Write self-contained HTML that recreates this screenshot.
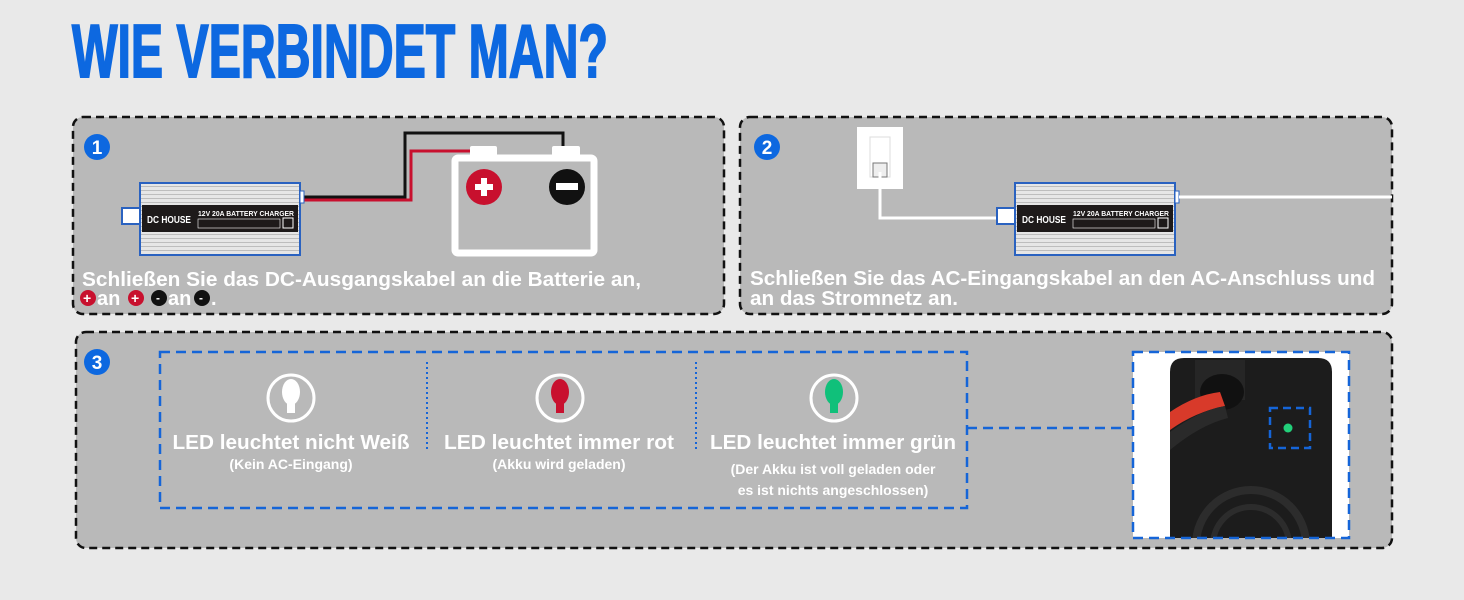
<!DOCTYPE html>
<html><head><meta charset="utf-8"><style>
html,body{margin:0;padding:0;background:#e9e9e9;}
svg{display:block;}
text{font-family:"Liberation Sans",sans-serif;font-weight:bold;}
</style></head><body>
<svg width="1464" height="600" viewBox="0 0 1464 600" xmlns="http://www.w3.org/2000/svg">
<defs>
<clipPath id="photo"><rect x="1133" y="352" width="216" height="186"/></clipPath>
<pattern id="ribs" width="4" height="4" patternUnits="userSpaceOnUse"><rect width="4" height="4" fill="#e6e6e6"/><rect y="3" width="4" height="1" fill="#bdbdbd"/></pattern>
<g id="charger">
<rect x="-18" y="25" width="20" height="16" fill="#fff" stroke="#2a62c0" stroke-width="2"/>
<rect x="0" y="0" width="160" height="72" fill="url(#ribs)" stroke="#2a62c0" stroke-width="2"/>
<rect x="160" y="8" width="4" height="12" fill="#fff" stroke="#2a62c0" stroke-width="1"/>
<rect x="2" y="22" width="156" height="27" fill="#1e1a1a"/>
<text x="7" y="40" font-size="10" fill="#fff" textLength="44" lengthAdjust="spacingAndGlyphs">DC HOUSE</text>
<text x="58" y="33" font-size="7" fill="#fff" textLength="96" lengthAdjust="spacingAndGlyphs">12V 20A BATTERY CHARGER</text>
<rect x="58" y="36" width="82" height="9" fill="none" stroke="#fff" stroke-width="0.6"/>
<rect x="143" y="35" width="10" height="10" fill="none" stroke="#fff" stroke-width="1"/>
</g>
</defs>

<text x="72" y="77" font-size="75" fill="#0d68e0" textLength="536" lengthAdjust="spacingAndGlyphs" stroke="#0d68e0" stroke-width="2">WIE VERBINDET MAN?</text>

<rect x="73" y="117" width="651" height="197" rx="10" fill="#b9b9b9" stroke="#111" stroke-width="2.5" stroke-dasharray="8,5"/>
<rect x="740" y="117" width="652" height="197" rx="10" fill="#b9b9b9" stroke="#111" stroke-width="2.5" stroke-dasharray="8,5"/>
<rect x="76" y="332" width="1316" height="216" rx="10" fill="#b9b9b9" stroke="#111" stroke-width="2.5" stroke-dasharray="8,5"/>

<circle cx="97" cy="147" r="13" fill="#0d68e0"/><text x="97" y="154" font-size="19" fill="#fff" text-anchor="middle">1</text>
<circle cx="767" cy="147" r="13" fill="#0d68e0"/><text x="767" y="154" font-size="19" fill="#fff" text-anchor="middle">2</text>
<circle cx="97" cy="362" r="13" fill="#0d68e0"/><text x="97" y="369" font-size="19" fill="#fff" text-anchor="middle">3</text>

<polyline points="302,197 405,197 405,133 563,133 563,148" fill="none" stroke="#111" stroke-width="3"/>
<polyline points="302,200 411,200 411,151 472,151" fill="none" stroke="#c8102e" stroke-width="3"/>
<use href="#charger" x="140" y="183"/>
<rect x="470" y="146" width="27" height="12" rx="2" fill="#fff"/>
<rect x="552" y="146" width="28" height="12" rx="2" fill="#fff"/>
<rect x="455" y="158" width="139" height="95" rx="3" fill="none" stroke="#fff" stroke-width="7"/>
<circle cx="484" cy="187" r="18" fill="#c8102e"/>
<rect x="475" y="184" width="18" height="6" fill="#fff"/><rect x="481" y="178" width="6" height="18" fill="#fff"/>
<circle cx="567" cy="187" r="18" fill="#111"/>
<rect x="556" y="183" width="22" height="7" fill="#fff"/>
<text x="82" y="286" font-size="20" fill="#fff" textLength="559" lengthAdjust="spacingAndGlyphs">Schließen Sie das DC-Ausgangskabel an die Batterie an,</text>
<g font-size="20" fill="#fff">
<circle cx="88" cy="298" r="8" fill="#c8102e"/><text x="83" y="303" font-size="14">+</text>
<text x="97" y="305">an</text>
<circle cx="136" cy="298" r="8" fill="#c8102e"/><text x="131" y="303" font-size="14">+</text>
<circle cx="159" cy="298" r="8" fill="#111"/><text x="156" y="302" font-size="12">-</text>
<text x="168" y="305">an</text>
<circle cx="202" cy="298" r="8" fill="#111"/><text x="199" y="302" font-size="12">-</text>
<text x="211" y="305">.</text>
</g>

<rect x="857" y="127" width="46" height="62" fill="#fff"/>
<rect x="870" y="137" width="20" height="40" fill="none" stroke="#ddd" stroke-width="1"/>
<rect x="873" y="163" width="14" height="14" fill="#eee" stroke="#777" stroke-width="1"/>
<polyline points="880,172 880,218 1000,218" fill="none" stroke="#fff" stroke-width="3"/>
<use href="#charger" x="1015" y="183"/>
<line x1="1179" y1="197" x2="1392" y2="197" stroke="#fff" stroke-width="3"/>
<text x="750" y="285" font-size="20" fill="#fff" textLength="625" lengthAdjust="spacingAndGlyphs">Schließen Sie das AC-Eingangskabel an den AC-Anschluss und</text>
<text x="750" y="305" font-size="20" fill="#fff" textLength="208" lengthAdjust="spacingAndGlyphs">an das Stromnetz an.</text>

<rect x="160" y="352" width="807" height="156" fill="none" stroke="#1565d8" stroke-width="2.5" stroke-dasharray="10,6"/>
<line x1="427" y1="362" x2="427" y2="452" stroke="#1565d8" stroke-width="2" stroke-dasharray="2,3"/>
<line x1="696" y1="362" x2="696" y2="452" stroke="#1565d8" stroke-width="2" stroke-dasharray="2,3"/>
<circle cx="291" cy="398" r="23" fill="none" stroke="#fff" stroke-width="3"/>
<ellipse cx="291" cy="392" rx="9" ry="13" fill="#fff"/><rect x="287" y="403" width="8" height="10" fill="#fff"/>
<circle cx="560" cy="398" r="23" fill="none" stroke="#fff" stroke-width="3"/>
<ellipse cx="560" cy="392" rx="9" ry="13" fill="#c8102e"/><rect x="556" y="403" width="8" height="10" fill="#c8102e"/>
<circle cx="834" cy="398" r="23" fill="none" stroke="#fff" stroke-width="3"/>
<ellipse cx="834" cy="392" rx="9" ry="13" fill="#10c07a"/><rect x="830" y="403" width="8" height="10" fill="#10c07a"/>
<g fill="#fff" text-anchor="middle">
<text x="291" y="449" font-size="20" textLength="237" lengthAdjust="spacingAndGlyphs">LED leuchtet nicht Weiß</text>
<text x="291" y="469" font-size="14">(Kein AC-Eingang)</text>
<text x="559" y="449" font-size="20" textLength="230" lengthAdjust="spacingAndGlyphs">LED leuchtet immer rot</text>
<text x="559" y="469" font-size="14">(Akku wird geladen)</text>
<text x="833" y="449" font-size="20" textLength="246" lengthAdjust="spacingAndGlyphs">LED leuchtet immer grün</text>
<text x="833" y="474" font-size="14">(Der Akku ist voll geladen oder</text>
<text x="833" y="495" font-size="14">es ist nichts angeschlossen)</text>
</g>
<line x1="967" y1="428" x2="1280" y2="428" stroke="#1565d8" stroke-width="2.5" stroke-dasharray="10,6"/>
<rect x="1133" y="352" width="216" height="186" fill="#fff"/>
<g clip-path="url(#photo)">
<path d="M1170,540 L1170,372 Q1170,358 1184,358 L1318,358 Q1332,358 1332,372 L1332,540 Z" fill="#1c1c1c"/>
<rect x="1195" y="360" width="50" height="40" fill="#262626"/>
<ellipse cx="1222" cy="392" rx="22" ry="18" fill="#111"/>
<path d="M1170,412 Q1195,395 1220,392 L1225,406 Q1195,412 1170,430 Z" fill="#d83a2a"/>
<path d="M1170,432 Q1200,410 1225,406 L1228,418 Q1200,425 1170,450 Z" fill="#2a2a2a"/>
<circle cx="1251" cy="545" r="55" fill="none" stroke="#2c2c2c" stroke-width="8"/>
<circle cx="1251" cy="545" r="38" fill="none" stroke="#2c2c2c" stroke-width="6"/>
</g>
<rect x="1270" y="408" width="40" height="40" fill="none" stroke="#1565d8" stroke-width="2.5" stroke-dasharray="8,5"/>
<circle cx="1288" cy="428" r="4.5" fill="#22d07a"/>
<rect x="1133" y="352" width="216" height="186" fill="none" stroke="#1565d8" stroke-width="2.5" stroke-dasharray="10,6"/>
</svg>
</body></html>
